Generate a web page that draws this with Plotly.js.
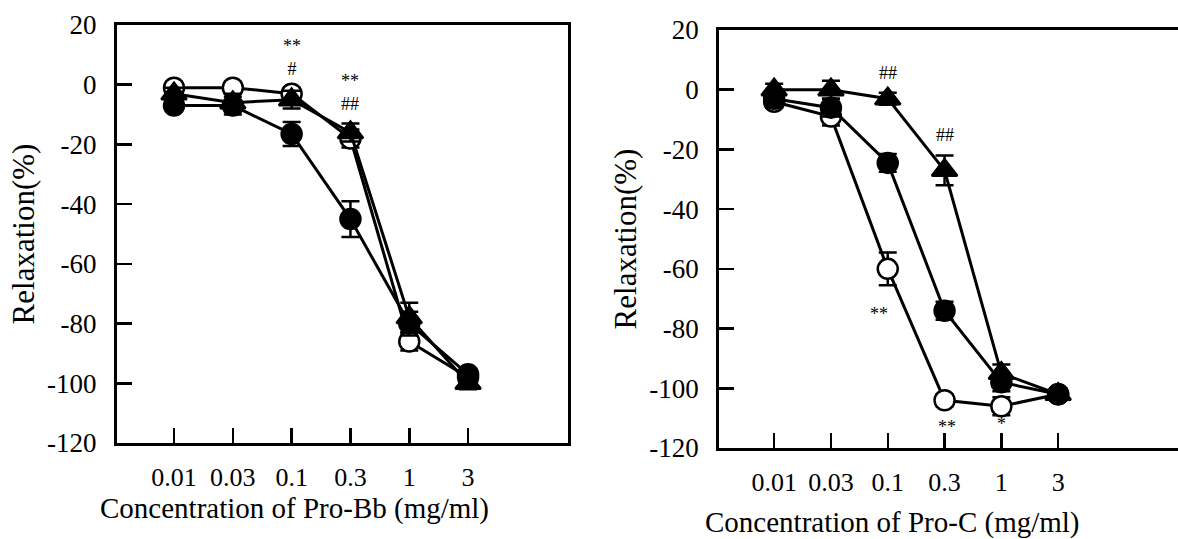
<!DOCTYPE html>
<html>
<head>
<meta charset="utf-8">
<script src="https://cdn.plot.ly/plotly-3.0.1.min.js"></script>
<style>html,body{margin:0;padding:0;background:#fff;}#chart{width:1178px;height:539px;}</style>
</head>
<body>
<div id="chart"></div>
<script>
// Tick labels (concentration, mg/ml) shared by both panels
const concLabels = ["0.01", "0.03", "0.1", "0.3", "1", "3"];
const concIndex = [0, 1, 2, 3, 4, 5];
// Y tick labels (relaxation, %)
const relaxVals = [20, 0, -20, -40, -60, -80, -100, -120];
const relaxLabels = ["20", "0", "-20", "-40", "-60", "-80", "-100", "-120"];

// Left panel: Pro-Bb
const bbOpen = [-1, -1, -3, -18, -86, -98];
const bbOpenErr = [2, 2, 2, 3, 3, 2];
const bbCircle = [-7, -7, -16.5, -45, -80, -97];
const bbCircleErr = [2, 3, 4, 6, 4, 2];
const bbTriangle = [-3, -6, -5, -16, -78, -100];
const bbTriangleErr = [2, 3, 3, 3, 5, 2];

// Right panel: Pro-C
const cOpen = [-4, -9, -60, -104, -106, -102];
const cOpenErr = [2, 3, 5.5, 2, 3, 2];
const cCircle = [-3, -6, -24.5, -74, -98, -102];
const cCircleErr = [2, 3, 3, 3, 3, 2];
const cTriangle = [0, 0, -3, -27, -95, -102];
const cTriangleErr = [2, 3, 2, 5, 3, 2];

// Significance marks
const sigText = ["**<br>#", "**<br>##", "##", "##", "**", "**", "*"];
const sigPanel = [1, 1, 2, 2, 2, 2, 2];
const sigX = [2, 3, 2, 3, 1.85, 3.05, 4];
const sigY = [9, -2.5, 5.5, -15, -75, -113, -112];

const FONT = "Liberation Serif";

function series(x, y, err, xa, ya, symbol, fill) {
  return {
    type: "scatter", mode: "lines+markers", x: x, y: y,
    xaxis: xa, yaxis: ya, showlegend: false, cliponaxis: false,
    line: {color: "#000", width: 3},
    marker: {symbol: symbol, size: symbol === "triangle-up" ? 22 : 20, color: fill,
             line: {color: "#000", width: 2.5}},
    error_y: {type: "data", array: err, visible: true, color: "#000", thickness: 2.5, width: 9}
  };
}

const data = [
  series(concIndex, bbOpen, bbOpenErr, "x", "y", "circle", "#fff"),
  series(concIndex, bbCircle, bbCircleErr, "x", "y", "circle", "#000"),
  series(concIndex, bbTriangle, bbTriangleErr, "x", "y", "triangle-up", "#000"),
  series(concIndex, cOpen, cOpenErr, "x2", "y2", "circle", "#fff"),
  series(concIndex, cTriangle, cTriangleErr, "x2", "y2", "triangle-up", "#000"),
  series(concIndex, cCircle, cCircleErr, "x2", "y2", "circle", "#000")
];

function xAxis(domain, range, anchor) {
  return {
    domain: domain, range: range, anchor: anchor,
    tickmode: "array", tickvals: concIndex, ticktext: concLabels,
    ticks: "inside", ticklen: 15, tickwidth: 2.5, tickcolor: "#000",
    ticklabelstandoff: 9,
    showline: true, linewidth: 3, linecolor: "#000", mirror: true,
    showgrid: false, zeroline: false,
    tickfont: {family: FONT, size: 26, color: "#000"}
  };
}
function yAxis(domain, anchor, mirror) {
  return {
    domain: domain, range: [-120, 20], anchor: anchor,
    tickmode: "array", tickvals: relaxVals, ticktext: relaxLabels,
    ticks: "inside", ticklen: 15, tickwidth: 2.5, tickcolor: "#000",
    ticklabelstandoff: 12,
    showline: true, linewidth: 3, linecolor: "#000", mirror: mirror,
    showgrid: false, zeroline: false,
    tickfont: {family: FONT, size: 27, color: "#000"},
    title: {text: "Relaxation(%)", font: {family: FONT, size: 31, color: "#000"}, standoff: 4}
  };
}

const annotations = sigText.map((t, i) => ({
  text: t, x: sigX[i], y: sigY[i],
  xref: sigPanel[i] === 1 ? "x" : "x2", yref: sigPanel[i] === 1 ? "y" : "y2",
  showarrow: false, font: {family: FONT, size: 18, color: "#000"}
}));
annotations.push(
  {text: "Concentration of Pro-Bb (mg/ml)", xref: "paper", yref: "paper", x: 0.2504, y: 0.0575,
   xanchor: "center", yanchor: "middle", showarrow: false, font: {family: FONT, size: 29, color: "#000"}},
  {text: "Concentration of Pro-C (mg/ml)", xref: "paper", yref: "paper", x: 0.758, y: 0.0297,
   xanchor: "center", yanchor: "middle", showarrow: false, font: {family: FONT, size: 29, color: "#000"}}
);

const layout = {
  width: 1178, height: 539,
  margin: {l: 0, r: 0, t: 0, b: 0},
  paper_bgcolor: "#fff", plot_bgcolor: "#fff",
  xaxis: xAxis([0.0993, 0.4822], [-0.97, 6.70], "y"),
  yaxis: yAxis([0.1781, 0.9536], "x", true),
  xaxis2: xAxis([0.6104, 1.0], [-0.97, 7.11], "y2"),
  yaxis2: yAxis([0.1688, 0.9443], "x2", false),
  annotations: annotations
};

Plotly.newPlot("chart", data, layout, {displayModeBar: false, staticPlot: true});
</script>
</body>
</html>
